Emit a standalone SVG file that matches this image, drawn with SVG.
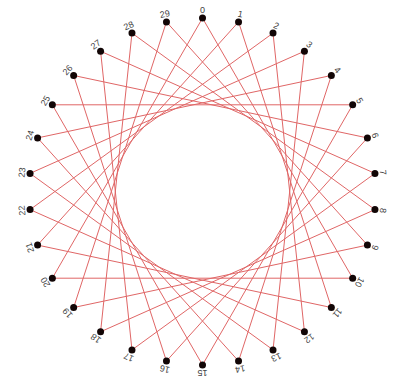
<svg xmlns="http://www.w3.org/2000/svg" width="401" height="377" viewBox="0 0 401 377">
<style>
.e{stroke:#e06666;stroke-width:1;fill:none}
.d{fill:#120606}
.l{font-family:"Liberation Sans",Arial,sans-serif;font-size:9px;fill:#444;text-anchor:middle;dominant-baseline:central}
</style>
<rect width="401" height="377" fill="#fff"/>
<g id="connectors">
<polygon class="e" points="202.5,18.1 352.66,278.2 52.34,278.2"/>
<polygon class="e" points="238.55,21.9 331.35,307.52 37.58,245.08"/>
<polygon class="e" points="273.02,33.1 304.42,331.78 30.05,209.62"/>
<polygon class="e" points="304.42,51.22 273.02,349.9 30.05,173.38"/>
<polygon class="e" points="331.35,75.48 238.55,361.1 37.58,137.92"/>
<polygon class="e" points="352.66,104.8 202.5,364.9 52.34,104.8"/>
<polygon class="e" points="367.42,137.92 166.45,361.1 73.65,75.48"/>
<polygon class="e" points="374.95,173.38 131.98,349.9 100.58,51.22"/>
<polygon class="e" points="374.95,209.62 100.58,331.78 131.98,33.1"/>
<polygon class="e" points="367.42,245.08 73.65,307.52 166.45,21.9"/>
</g>
<g id="n0"><circle class="d" cx="202.5" cy="18.1" r="3.5"/><text class="l" x="202.5" y="10" transform="rotate(0 202.5 191.5)">0</text></g>
<g id="n1"><circle class="d" cx="238.55" cy="21.9" r="3.5"/><text class="l" x="202.5" y="10" transform="rotate(12 202.5 191.5)">1</text></g>
<g id="n2"><circle class="d" cx="273.02" cy="33.1" r="3.5"/><text class="l" x="202.5" y="10" transform="rotate(24 202.5 191.5)">2</text></g>
<g id="n3"><circle class="d" cx="304.42" cy="51.22" r="3.5"/><text class="l" x="202.5" y="10" transform="rotate(36 202.5 191.5)">3</text></g>
<g id="n4"><circle class="d" cx="331.35" cy="75.48" r="3.5"/><text class="l" x="202.5" y="10" transform="rotate(48 202.5 191.5)">4</text></g>
<g id="n5"><circle class="d" cx="352.66" cy="104.8" r="3.5"/><text class="l" x="202.5" y="10" transform="rotate(60 202.5 191.5)">5</text></g>
<g id="n6"><circle class="d" cx="367.42" cy="137.92" r="3.5"/><text class="l" x="202.5" y="10" transform="rotate(72 202.5 191.5)">6</text></g>
<g id="n7"><circle class="d" cx="374.95" cy="173.38" r="3.5"/><text class="l" x="202.5" y="10" transform="rotate(84 202.5 191.5)">7</text></g>
<g id="n8"><circle class="d" cx="374.95" cy="209.62" r="3.5"/><text class="l" x="202.5" y="10" transform="rotate(96 202.5 191.5)">8</text></g>
<g id="n9"><circle class="d" cx="367.42" cy="245.08" r="3.5"/><text class="l" x="202.5" y="10" transform="rotate(108 202.5 191.5)">9</text></g>
<g id="n10"><circle class="d" cx="352.66" cy="278.2" r="3.5"/><text class="l" x="202.5" y="10" transform="rotate(120 202.5 191.5)">10</text></g>
<g id="n11"><circle class="d" cx="331.35" cy="307.52" r="3.5"/><text class="l" x="202.5" y="10" transform="rotate(132 202.5 191.5)">11</text></g>
<g id="n12"><circle class="d" cx="304.42" cy="331.78" r="3.5"/><text class="l" x="202.5" y="10" transform="rotate(144 202.5 191.5)">12</text></g>
<g id="n13"><circle class="d" cx="273.02" cy="349.9" r="3.5"/><text class="l" x="202.5" y="10" transform="rotate(156 202.5 191.5)">13</text></g>
<g id="n14"><circle class="d" cx="238.55" cy="361.1" r="3.5"/><text class="l" x="202.5" y="10" transform="rotate(168 202.5 191.5)">14</text></g>
<g id="n15"><circle class="d" cx="202.5" cy="364.9" r="3.5"/><text class="l" x="202.5" y="10" transform="rotate(180 202.5 191.5)">15</text></g>
<g id="n16"><circle class="d" cx="166.45" cy="361.1" r="3.5"/><text class="l" x="202.5" y="10" transform="rotate(192 202.5 191.5)">16</text></g>
<g id="n17"><circle class="d" cx="131.98" cy="349.9" r="3.5"/><text class="l" x="202.5" y="10" transform="rotate(204 202.5 191.5)">17</text></g>
<g id="n18"><circle class="d" cx="100.58" cy="331.78" r="3.5"/><text class="l" x="202.5" y="10" transform="rotate(216 202.5 191.5)">18</text></g>
<g id="n19"><circle class="d" cx="73.65" cy="307.52" r="3.5"/><text class="l" x="202.5" y="10" transform="rotate(228 202.5 191.5)">19</text></g>
<g id="n20"><circle class="d" cx="52.34" cy="278.2" r="3.5"/><text class="l" x="202.5" y="10" transform="rotate(240 202.5 191.5)">20</text></g>
<g id="n21"><circle class="d" cx="37.58" cy="245.08" r="3.5"/><text class="l" x="202.5" y="10" transform="rotate(252 202.5 191.5)">21</text></g>
<g id="n22"><circle class="d" cx="30.05" cy="209.62" r="3.5"/><text class="l" x="202.5" y="10" transform="rotate(264 202.5 191.5)">22</text></g>
<g id="n23"><circle class="d" cx="30.05" cy="173.38" r="3.5"/><text class="l" x="202.5" y="10" transform="rotate(276 202.5 191.5)">23</text></g>
<g id="n24"><circle class="d" cx="37.58" cy="137.92" r="3.5"/><text class="l" x="202.5" y="10" transform="rotate(288 202.5 191.5)">24</text></g>
<g id="n25"><circle class="d" cx="52.34" cy="104.8" r="3.5"/><text class="l" x="202.5" y="10" transform="rotate(300 202.5 191.5)">25</text></g>
<g id="n26"><circle class="d" cx="73.65" cy="75.48" r="3.5"/><text class="l" x="202.5" y="10" transform="rotate(312 202.5 191.5)">26</text></g>
<g id="n27"><circle class="d" cx="100.58" cy="51.22" r="3.5"/><text class="l" x="202.5" y="10" transform="rotate(324 202.5 191.5)">27</text></g>
<g id="n28"><circle class="d" cx="131.98" cy="33.1" r="3.5"/><text class="l" x="202.5" y="10" transform="rotate(336 202.5 191.5)">28</text></g>
<g id="n29"><circle class="d" cx="166.45" cy="21.9" r="3.5"/><text class="l" x="202.5" y="10" transform="rotate(348 202.5 191.5)">29</text></g>
</svg>
